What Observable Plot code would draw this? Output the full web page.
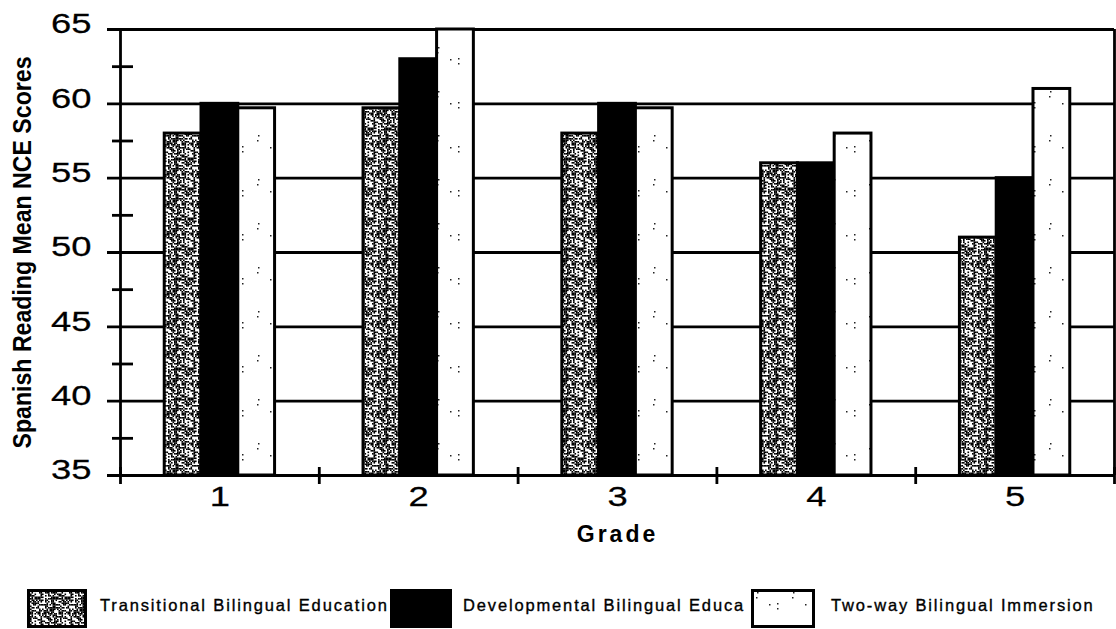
<!DOCTYPE html>
<html><head><meta charset="utf-8">
<script src="https://cdn.jsdelivr.net/npm/d3@7"></script>
<script src="https://cdn.jsdelivr.net/npm/@observablehq/plot@0.6"></script>
<style>
body{margin:0;background:#fff;font-family:"Liberation Sans",Arial,sans-serif;}
#wrap{position:relative;width:1116px;height:629px;overflow:hidden;}
#wrap svg.chart{position:absolute;left:0;top:0;}
.sw{position:absolute;top:589px;}
.lt{position:absolute;top:595px;font-size:16.5px;letter-spacing:1.85px;white-space:nowrap;line-height:20px;color:#000;-webkit-text-stroke:0.35px #000;}
</style></head><body><div id="wrap"></div>
<script>
// ---- data ----
const grades = [1, 2, 3, 4, 5];
const seriesNames = ["Transitional Bilingual Education", "Developmental Bilingual Education", "Two-way Bilingual Immersion"];
const legendLabels = ["Transitional Bilingual Education", "Developmental Bilingual Educa", "Two-way Bilingual Immersion"];
const tbeValues = [58, 59.7, 58, 56, 51];
const dbeValues = [60, 63, 60, 56, 55];
const twiValues = [59.7, 65, 59.7, 58, 61];
const yMajorTicks = [35, 40, 45, 50, 55, 60, 65];
const yMinorTicks = [37.5, 42.5, 47.5, 52.5, 57.5, 62.5];
const gradeBoundaries = [0.5, 1.5, 2.5, 3.5, 4.5, 5.5];
const yTitle = "Spanish Reading Mean NCE Scores";
const xTitle = "Grade";

const seriesValues = [tbeValues, dbeValues, twiValues];
const fills = ["url(#pTBE)", "#000", "url(#pTWI)"];
const bw = 0.185; // bar width in grade units
const rows = seriesValues.map((vals, si) => grades.map((g, gi) => ({grade: g, series: seriesNames[si], si, value: vals[gi]})));

const barMarks = rows.map((data, si) => Plot.rectY(data, {
  x1: d => d.grade + (d.si - 1.5) * bw,
  x2: d => d.grade + (d.si - 0.5) * bw,
  y1: d => 35,
  y2: "value",
  fill: fills[si],
  stroke: "#000",
  strokeWidth: 3
}));

const chart = Plot.plot({
  width: 1116,
  height: 570,
  marginLeft: 120,
  marginRight: 2,
  marginTop: 29,
  marginBottom: 95,
  style: {fontFamily: "'Liberation Sans', Arial, sans-serif", color: "#000", background: "#fff"},
  x: {domain: [0.5, 5.5]},
  y: {domain: [35, 65]},
  marks: [
    Plot.ruleY(yMajorTicks, {stroke: "#000", strokeWidth: 2.8, insetLeft: -13}),
    Plot.ruleY(yMinorTicks, {x1: d => 0.5, x2: d => 0.5, insetLeft: -8, insetRight: -13, stroke: "#000", strokeWidth: 2.8}),
    ...barMarks,
    Plot.ruleX([0.5, 5.5], {stroke: "#000", strokeWidth: 2.8}),
    Plot.ruleX(gradeBoundaries, {y1: d => 35, y2: d => 35, insetTop: -8, insetBottom: -9, stroke: "#000", strokeWidth: 2.8}),
    Plot.axisY({ticks: yMajorTicks, tickSize: 0, tickPadding: 29, fontSize: 28, dy: -5, label: null, tickFormat: d => String(d)}),
    Plot.axisX({ticks: grades, tickSize: 0, tickPadding: 11, fontSize: 28, label: null, tickFormat: d => String(d)}),
    Plot.text([xTitle], {frameAnchor: "bottom", lineAnchor: "top", dy: 50, fontSize: 23, fontWeight: "bold"}),
    Plot.text([yTitle], {frameAnchor: "left", textAnchor: "middle", rotate: -90, dx: -98, fontSize: 26, fontWeight: "bold"})
  ]
});
chart.classList.add("chart");

// textures
const defs = d3.select(chart).insert("defs", ":first-child");
let seed = 20240607;
const rnd = () => { seed = (Math.imul(seed, 1664525) + 1013904223) >>> 0; return seed / 4294967296; };
const p1 = defs.append("pattern").attr("id", "pTBE").attr("patternUnits", "userSpaceOnUse").attr("width", 30).attr("height", 30);
p1.append("rect").attr("width", 30).attr("height", 30).attr("fill", "#fff");
for (let i = 0; i < 20; i++) for (let j = 0; j < 20; j++) {
  if (rnd() < 0.56) p1.append("rect").attr("x", i * 1.5).attr("y", j * 1.5).attr("width", 1.6).attr("height", 1.6).attr("fill", "#000");
}
const p2 = defs.append("pattern").attr("id", "pTWI").attr("patternUnits", "userSpaceOnUse").attr("width", 36).attr("height", 44);
p2.append("rect").attr("width", 36).attr("height", 44).attr("fill", "#fff");
for (let k = 0; k < 5; k++) {
  p2.append("rect").attr("x", Math.floor(rnd() * 34)).attr("y", Math.floor(rnd() * 42)).attr("width", 1.5).attr("height", 1.5).attr("fill", "#222");
}

// text styling
d3.select(chart).selectAll("text").each(function() {
  const t = this.textContent;
  const sel = d3.select(this);
  if (t === yTitle) {
    sel.attr("textLength", 392).attr("lengthAdjust", "spacingAndGlyphs")
      .style("font-family", "'Liberation Sans Narrow','Liberation Sans',Arial,sans-serif");
  } else if (t === xTitle) {
    sel.style("letter-spacing", "3px");
  } else if (/^\d+$/.test(t)) {
    // widen tick label glyphs around their anchor point
    const x = +sel.attr("x") || 0, y = +sel.attr("y") || 0;
    const prev = sel.attr("transform") || "";
    sel.attr("transform", `${prev} translate(${x},${y}) scale(1.3,1) translate(${-x},${-y})`)
      .attr("stroke", "#000").attr("stroke-width", 0.25);
  }
});

const wrap = document.getElementById("wrap");
wrap.appendChild(chart);

// legend
const leg = [
  {sx: 27, sw: 60, fill: "url(#pTBE)", tx: 100},
  {sx: 390, sw: 62, fill: "#000", tx: 463},
  {sx: 751, sw: 64, fill: "url(#pTWI)", tx: 831}
];
leg.forEach((L, i) => {
  const d = document.createElement("div");
  d.className = "lt";
  d.style.left = L.tx + "px";
  d.textContent = legendLabels[i];
  wrap.appendChild(d);
});
leg.forEach((L) => {
  const s = document.createElementNS("http://www.w3.org/2000/svg", "svg");
  s.setAttribute("class", "sw");
  s.setAttribute("width", L.sw); s.setAttribute("height", 39);
  s.style.left = L.sx + "px";
  s.innerHTML = `<rect x="1.5" y="1.5" width="${L.sw - 3}" height="36" fill="${L.fill}" stroke="#000" stroke-width="3"/>`;
  wrap.appendChild(s);
});
</script>
</body></html>
